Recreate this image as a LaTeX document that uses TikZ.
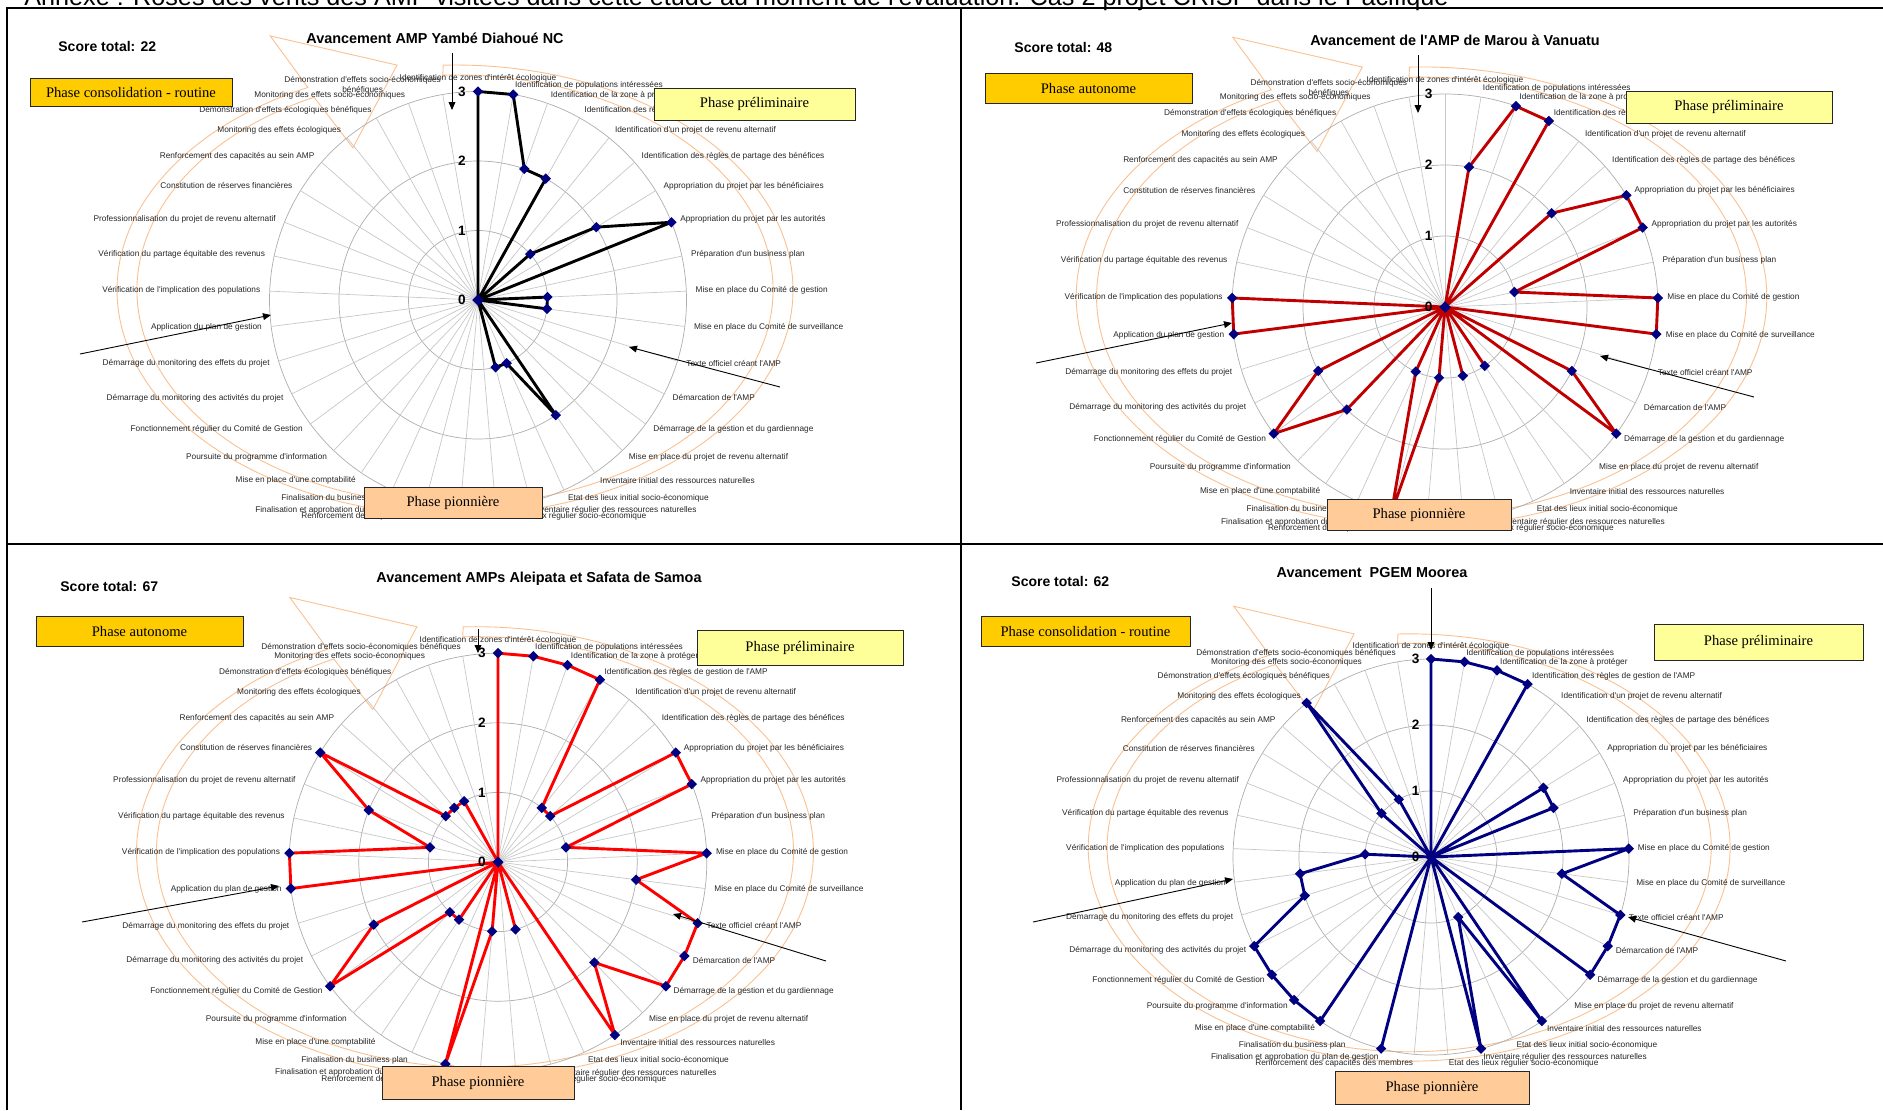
\documentclass[tikz,border=0pt]{standalone}
\usepackage{fontspec}
\setmainfont{Liberation Serif}
\setsansfont{Liberation Sans}[Ligatures=TeXOff]
\usetikzlibrary{arrows.meta,shapes.geometric}

\definecolor{goldphase}{HTML}{FFCC00}
\definecolor{yellowphase}{HTML}{FFFF99}
\definecolor{peachphase}{HTML}{FFCC99}
\definecolor{cyclearrow}{HTML}{FAC090}
\definecolor{navymark}{HTML}{000080}
\definecolor{darkred}{HTML}{C00000}

\tikzset{
  gridline/.style={black!22, line width=0.35pt},
  ringline/.style={black!32, line width=0.35pt},
  dataline/.style={line width=1.45pt, line join=round},
  datamark/.style={diamond, fill=navymark, inner sep=0pt, minimum size=5.4pt},
  catlabel/.style={font=\sffamily\fontsize{4.15}{5}\selectfont, inner sep=0pt, text=black!85},
  axisnum/.style={font=\sffamily\bfseries\fontsize{6.8}{7}\selectfont, inner sep=0pt, anchor=east},
  charttitle/.style={font=\sffamily\bfseries\fontsize{7.2}{8}\selectfont, inner sep=0pt},
  scorelabel/.style={font=\sffamily\bfseries\fontsize{7}{8}\selectfont, inner sep=0pt, anchor=west},
  phasebox/.style={draw=black!85, line width=0.45pt, font=\fontsize{7.3}{8}\selectfont, inner sep=0pt},
  phasearrow/.style={-{Triangle[length=4pt,width=3.4pt]}, line width=0.45pt},
  cyclepath/.style={cyclearrow, line width=0.45pt},
  frameline/.style={line width=1.3pt},
}

% the 36 first axes of the rose (the last one changes from chart to chart)
\newcommand{\amplabels}{0/Identification de zones d'intérêt écologique,
  1/Identification de populations intéressées,
  2/Identification de la zone à protéger,
  3/Identification des règles de gestion de l'AMP,
  4/Identification d'un projet de revenu alternatif,
  5/Identification des règles de partage des bénéfices,
  6/Appropriation du projet par les bénéficiaires,
  7/Appropriation du projet par les autorités,
  8/Préparation d'un business plan,
  9/Mise en place du Comité de gestion,
  10/Mise en place du Comité de surveillance,
  11/Texte officiel créant l'AMP,
  12/Démarcation de l'AMP,
  13/Démarrage de la gestion et du gardiennage,
  14/Mise en place du projet de revenu alternatif,
  15/Inventaire initial des ressources naturelles,
  16/Etat des lieux initial socio-économique,
  17/Inventaire régulier des ressources naturelles,
  18/Etat des lieux régulier socio-économique,
  19/Renforcement des capacités des membres,
  20/Finalisation et approbation du plan de gestion,
  21/Finalisation du business plan,
  22/Mise en place d'une comptabilité,
  23/Poursuite du programme d'information,
  24/Fonctionnement régulier du Comité de Gestion,
  25/Démarrage du monitoring des activités du projet,
  26/Démarrage du monitoring des effets du projet,
  27/Application du plan de gestion,
  28/Vérification de l'implication des populations,
  29/Vérification du partage équitable des revenus,
  30/Professionnalisation du projet de revenu alternatif,
  31/Constitution de réserves financières,
  32/Renforcement des capacités au sein AMP,
  33/Monitoring des effets écologiques,
  34/Démonstration d'effets écologiques bénéfiques,
  35/Monitoring des effets socio-économiques}

% #1 prefix, #2 #3 centre (px), #4 one step of the scale (pt), #5 line colour, #6 the 37 scores, #7 last axis label
\newcommand{\ampradar}[7]{%
\begin{scope}[shift={(#2,#3)}, x=#4pt, y=-#4pt]
  % cycle of the phases
  \draw[cyclepath] (-0.331,-0.144) ++(268:4.863 and 3.237)
    arc[start angle=268, end angle=604.2, x radius=4.863, y radius=3.237]
    -- (-2.99,-3.80) -- (-1.165,-3.38) -- (-1.80,-2.19)
    -- ([shift={(-0.331,-0.144)}]603.7:4.576 and 3.094)
    arc[start angle=603.7, end angle=267.8, x radius=4.576, y radius=3.094] -- cycle;
  % grid
  \foreach \r in {1,2,3} \draw[ringline] (0,0) circle[radius=\r];
  \foreach \i in {0,...,36} \draw[gridline] (0,0) -- ({\i*360/37-90}:3);
  % scores
  \foreach \v [count=\i from 0] in {#6} \coordinate (#1p\i) at ({\i*360/37-90}:\v);
  \draw[dataline, #5] (#1p0) \foreach \i in {1,...,36} {-- (#1p\i)} -- cycle;
  \foreach \i in {0,...,36} \node[datamark] (#1m\i) at (#1p\i) {};
  % axis labels
  \foreach \i/\txt in \amplabels {
    \ifnum\i=0 \def\anc{south}\else\ifnum\i<19 \def\anc{west}\else\def\anc{east}\fi\fi
    \node[catlabel, anchor=\anc] (#1l\i) at ({\i*360/37-90}:3.13) {\txt};
  }
  \node[catlabel, anchor=east, align=center] (#1l36) at ({36*360/37-90}:3.13) {#7};
  \foreach \k in {0,...,3} \node[axisnum] (#1n\k) at (-0.17,-\k) {\k};
\end{scope}}

\begin{document}
\begin{tikzpicture}[x=0.5pt, y=-0.5pt]
\useasboundingbox (0,0) rectangle (1883,1110);

% header line, cut by the page
\begin{scope}
  \clip (0,0) rectangle (1883,1110);
  \node[anchor=base west, font=\sffamily\fontsize{12.6}{14}\selectfont, inner sep=0pt] (header) at (24,5)
    {Annexe : Roses des vents des AMP visitées dans cette étude au moment de l'évaluation. Cas 2 projet CRISP dans le Pacifique};
\end{scope}

% frame
\draw[frameline] (7,1110) -- (7,8) -- (1883,8);
\draw[frameline] (961,8) -- (961,1110);
\draw[frameline] (7,544) -- (1883,544);

% Yambé Diahoué
\ampradar{a}{478}{300}{34.75}{black}
  {3,3,2,2,0,1,2,3,0,1,1,0,0,0,0,2,1,1,0,0,0,0,0,0,0,0,0,0,0,0,0,0,0,0,0,0,0}
  {Démonstration d'effets socio-économiques\\bénéfiques}
\node[charttitle] (ttla) at (435,38) {Avancement AMP Yambé Diahoué NC};
\node[scorelabel] (scra) at (58,46) {Score total: 22};
\node[phasebox, fill=goldphase, minimum width=101pt, minimum height=14pt] (pha1) at (131,92) {Phase consolidation - routine};
\node[phasebox, fill=yellowphase, minimum width=100.5pt, minimum height=16pt] (pha2) at (754.5,104) {Phase préliminaire};
\node[phasebox, fill=peachphase, minimum width=89pt, minimum height=15.5pt] (pha3) at (453,502.5) {Phase pionnière};
\coordinate (ava1) at (452,53); \coordinate (ava2) at (452,110);
\coordinate (avb1) at (80,354); \coordinate (avb2) at (271,315);
\coordinate (avc1) at (780,387); \coordinate (avc2) at (629,347);
\draw[phasearrow] (ava1) -- (ava2);
\draw[phasearrow] (avb1) -- (avb2);
\draw[phasearrow] (avc1) -- (avc2);

% Marou
\ampradar{b}{1445}{307}{35.5}{darkred}
  {0,2,3,3,0,2,3,3,1,3,3,0,2,3,0,1,0,1,0,1,3,1,0,2,3,2,0,3,3,0,0,0,0,0,0,0,0}
  {Démonstration d'effets socio-économiques\\bénéfiques}
\node[charttitle] (ttlb) at (1455,40) {Avancement de l'AMP de Marou à Vanuatu};
\node[scorelabel] (scrb) at (1014,47) {Score total: 48};
\node[phasebox, fill=goldphase, minimum width=103.5pt, minimum height=15pt] (phb1) at (1088.5,88) {Phase autonome};
\node[phasebox, fill=yellowphase, minimum width=103pt, minimum height=16pt] (phb2) at (1729,107) {Phase préliminaire};
\node[phasebox, fill=peachphase, minimum width=92pt, minimum height=15.5pt] (phb3) at (1419,514.5) {Phase pionnière};
\coordinate (bva1) at (1418,55); \coordinate (bva2) at (1418,113);
\coordinate (bvb1) at (1036,363); \coordinate (bvb2) at (1232,323);
\coordinate (bvc1) at (1754,397); \coordinate (bvc2) at (1600,356);
\draw[phasearrow] (bva1) -- (bva2);
\draw[phasearrow] (bvb1) -- (bvb2);
\draw[phasearrow] (bvc1) -- (bvc2);

% Aleipata et Safata
\ampradar{c}{498}{862}{34.8}{red}
  {3,3,3,3,1,1,3,3,1,3,2,3,3,3,2,3,0,1,0,1,3,0,1,1,3,2,0,3,3,1,2,3,1,1,1,0,0}
  {Démonstration d'effets socio-économiques bénéfiques}
\node[charttitle] (ttlc) at (539,579) {Avancement AMPs Aleipata et Safata de Samoa};
\node[scorelabel] (scrc) at (60,586) {Score total: 67};
\node[phasebox, fill=goldphase, minimum width=103.5pt, minimum height=15pt] (phc1) at (139.5,631) {Phase autonome};
\node[phasebox, fill=yellowphase, minimum width=103pt, minimum height=17.5pt] (phc2) at (800,647.5) {Phase préliminaire};
\node[phasebox, fill=peachphase, minimum width=96pt, minimum height=16.5pt] (phc3) at (478,1082.5) {Phase pionnière};
\coordinate (cva1) at (478,629); \coordinate (cva2) at (478,653);
\coordinate (cvb1) at (82,922); \coordinate (cvb2) at (279,886);
\coordinate (cvc1) at (826,961); \coordinate (cvc2) at (673,914);
\draw[phasearrow] (cva1) -- (cva2);
\draw[phasearrow] (cvb1) -- (cvb2);
\draw[phasearrow] (cvc1) -- (cvc2);

% Moorea
\ampradar{d}{1431}{857}{33}{navymark}
  {3,3,3,3,0,0,2,2,0,3,2,3,3,3,0,3,1,3,0,0,3,0,3,3,3,3,2,2,1,0,0,0,1,3,1,0,0}
  {Démonstration d'effets socio-économiques bénéfiques}
\node[charttitle] (ttld) at (1372,573) {Avancement\ \ PGEM Moorea};
\node[scorelabel] (scrd) at (1011,581) {Score total: 62};
\node[phasebox, fill=goldphase, minimum width=104.5pt, minimum height=15pt] (phd1) at (1085.5,631) {Phase consolidation - routine};
\node[phasebox, fill=yellowphase, minimum width=104.5pt, minimum height=18pt] (phd2) at (1758.5,642) {Phase préliminaire};
\node[phasebox, fill=peachphase, minimum width=97pt, minimum height=16.5pt] (phd3) at (1432,1087.5) {Phase pionnière};
\coordinate (dva1) at (1431,588); \coordinate (dva2) at (1431,650);
\coordinate (dvb1) at (1033,922); \coordinate (dvb2) at (1233,879);
\coordinate (dvc1) at (1786,961); \coordinate (dvc2) at (1628,917);
\draw[phasearrow] (dva1) -- (dva2);
\draw[phasearrow] (dvb1) -- (dvb2);
\draw[phasearrow] (dvc1) -- (dvc2);
\end{tikzpicture}
\end{document}
